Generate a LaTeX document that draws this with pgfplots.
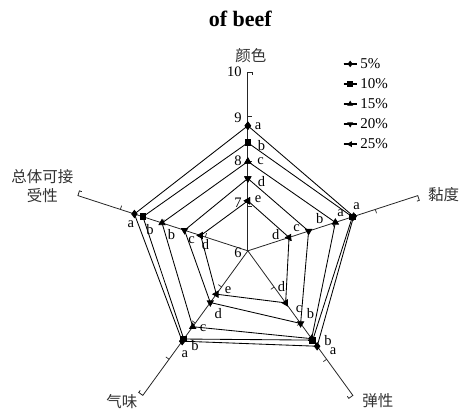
\documentclass[border=0pt]{standalone}
\usepackage{pgfplots}
\pgfplotsset{compat=1.18}
\usepackage{pgfplotstable}
\usepackage{fontspec}
\setmainfont{Liberation Serif}
\newfontfamily\cjk{Noto Sans CJK SC}

% sensory scores: one row per attribute (angle of its spoke), one column per addition level
\pgfplotstableread{
ang   s5    s10   s15   s20   s25
90    8.80  8.42  8.00  7.62  7.12
18    8.49  8.46  8.06  7.43  6.97
-54   8.64  8.47  8.43  8.01  7.44
-126  8.50  8.44  8.10  7.43  7.20
162   8.67  8.47  8.02  7.49  7.11
90    8.80  8.42  8.00  7.62  7.12
}\scores

% radar geometry: centre (248,161), 44.7 units per score point, score 6 at the centre
\newcommand{\rx}[1]{248+44.7*(\thisrow{#1}-6)*cos(\thisrow{ang})}
\newcommand{\ry}[1]{161+44.7*(\thisrow{#1}-6)*sin(\thisrow{ang})}

\begin{document}
\begin{tikzpicture}[font=\fontsize{14.5}{16}\selectfont]
\begin{axis}[
  scale only axis, width=459pt, height=412pt,
  xmin=0, xmax=459, ymin=0, ymax=412,
  enlargelimits=false, hide axis, clip=false,
  every axis plot/.append style={black, line width=0.85pt},
  legend style={draw=none, fill=none, at={(axis cs:343,356)}, anchor=north west,
    inner sep=0pt, row sep=4.6pt, font=\fontsize{15}{17}\selectfont,
    /tikz/every odd column/.append style={column sep=1pt}},
  legend cell align=left,
  legend image code/.code={%
    \path[draw=black, line width=1.4pt] (0pt,0pt) -- (13pt,0pt);
    \draw[mark repeat=2,mark phase=2, mark size=2.6pt] plot coordinates {(0pt,0pt) (6.5pt,0pt) (13pt,0pt)};},
]
% frame of the page
\draw[draw=none] (axis cs:0,0) rectangle (axis cs:459,412);

% spokes with ticks at 7, 8, 9 and a hook at 10
\pgfplotsinvokeforeach{90,18,-54,-126,162}{
  \draw[black!85, line width=0.8pt] (axis cs:248,161) -- ++(#1:178.8pt) -- ++(#1-90:5pt) -- ++(#1+180:2.5pt);
  \draw[black!85, line width=0.7pt] (axis cs:248,161) ++(#1:44.7pt) -- ++(#1-90:4pt);
  \draw[black!85, line width=0.7pt] (axis cs:248,161) ++(#1:89.4pt) -- ++(#1-90:4pt);
  \draw[black!85, line width=0.7pt] (axis cs:248,161) ++(#1:134.1pt) -- ++(#1-90:4pt);
}

\addplot[mark=diamond*, mark size=3.6pt] table[x expr={\rx{s5}}, y expr={\ry{s5}}] {\scores};
\addlegendentry{5\%}
\addplot[mark=square*, mark size=2.9pt] table[x expr={\rx{s10}}, y expr={\ry{s10}}] {\scores};
\addlegendentry{10\%}
\addplot[mark=triangle*, mark size=3.5pt] table[x expr={\rx{s15}}, y expr={\ry{s15}}] {\scores};
\addlegendentry{15\%}
\addplot[mark=triangle*, mark size=3.5pt, mark options={rotate=180}] table[x expr={\rx{s20}}, y expr={\ry{s20}}] {\scores};
\addlegendentry{20\%}
\addplot[mark=triangle*, mark size=3.5pt, mark options={rotate=90}] table[x expr={\rx{s25}}, y expr={\ry{s25}}] {\scores};
\addlegendentry{25\%}

% scale on the upper spoke
\node[anchor=east, inner sep=0pt] at (axis cs:242,159) {6};
\node[anchor=east, inner sep=0pt] at (axis cs:242,209) {7};
\node[anchor=east, inner sep=0pt] at (axis cs:242,251) {8};
\node[anchor=east, inner sep=0pt] at (axis cs:242,294.5) {9};
\node[anchor=east, inner sep=0pt] at (axis cs:242,340.2) {10};

% attribute names
\node[text=black!80, font=\cjk\fontsize{15.5}{17}\selectfont] at (axis cs:251,356) {颜色};
\node[text=black!80, font=\cjk\fontsize{15.5}{17}\selectfont, anchor=east, inner sep=0pt] at (axis cs:459.5,217) {黏度};
\node[text=black!80, font=\cjk\fontsize{15.5}{17}\selectfont] at (axis cs:378,11) {弹性};
\node[text=black!80, font=\cjk\fontsize{15.5}{17}\selectfont] at (axis cs:122,10) {气味};
\node[text=black!80, font=\cjk\fontsize{15.5}{19}\selectfont, align=center] at (axis cs:42.5,226) {总体可接\\受性};

% title
\node[font=\bfseries\fontsize{22}{26}\selectfont] at (axis cs:240.5,393) {of beef};

% significance letters
\begin{scope}[every node/.style={inner sep=0pt}]
\node at (axis cs:258.3,286) {a};
\node at (axis cs:261.7,266) {b};
\node at (axis cs:260.7,250.3) {c};
\node at (axis cs:261.7,230.3) {d};
\node at (axis cs:258.3,212.7) {e};
\node at (axis cs:356.7,205.3) {a};
\node at (axis cs:340.7,198.7) {a};
\node at (axis cs:320,193) {b};
\node at (axis cs:296.7,183.7) {c};
\node at (axis cs:276,177.7) {d};
\node at (axis cs:281.7,125.3) {d};
\node at (axis cs:299.3,102.7) {c};
\node at (axis cs:310.7,98.7) {b};
\node at (axis cs:328.3,71.3) {b};
\node at (axis cs:333.3,60.3) {a};
\node at (axis cs:228.3,122) {e};
\node at (axis cs:218.3,98.7) {d};
\node at (axis cs:203.3,83.7) {c};
\node at (axis cs:195,66) {b};
\node at (axis cs:185,58) {a};
\node at (axis cs:131,187.7) {a};
\node at (axis cs:150,182) {b};
\node at (axis cs:171.7,177) {b};
\node at (axis cs:191.7,171.3) {c};
\node at (axis cs:205.7,167) {d};
\end{scope}
\end{axis}
\end{tikzpicture}
\end{document}
